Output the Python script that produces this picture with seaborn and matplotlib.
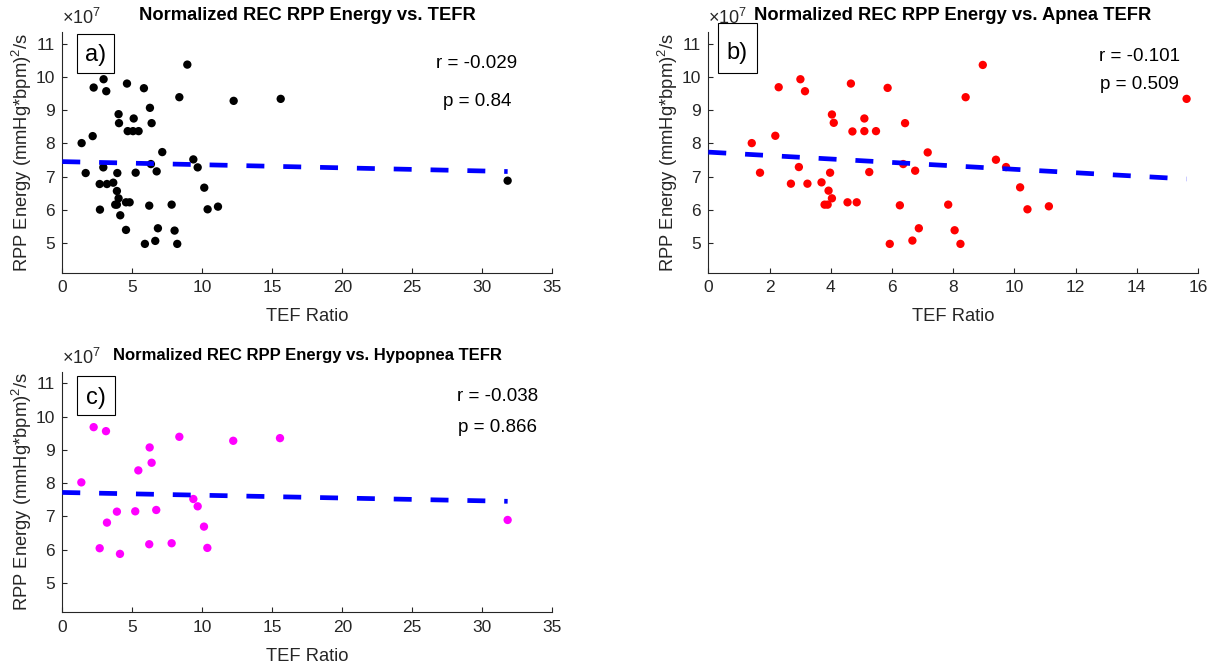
import numpy as np
import pandas as pd
import matplotlib
matplotlib.use("Agg")
import matplotlib.pyplot as plt
from matplotlib.patches import Rectangle
import seaborn as sns

# ---- data (RPP energy in units of 1e7 (mmHg*bpm)^2/s) ----
tefr_all = [8.93, 2.95, 2.24, 3.14, 4.62, 5.83, 8.36, 12.24, 6.26, 4.02,
            5.10, 4.05, 6.38, 4.67, 5.05, 5.45, 2.17, 1.38, 7.14, 9.36,
            2.93, 6.33, 9.67, 1.67, 3.93, 5.24, 6.74, 3.64, 3.19, 2.67,
            10.14, 3.90, 4.02, 3.78, 3.90, 4.55, 4.81, 6.21, 7.81, 11.12,
            10.38, 2.69, 4.14, 4.55, 6.83, 8.02, 5.90, 6.64, 8.21, 15.60,
            31.81]
energy_all = [10.37, 9.93, 9.68, 9.57, 9.80, 9.66, 9.39, 9.28, 9.07, 8.88,
              8.75, 8.61, 8.61, 8.37, 8.37, 8.37, 8.22, 8.01, 7.74, 7.52,
              7.28, 7.38, 7.28, 7.11, 7.11, 7.12, 7.16, 6.82, 6.78, 6.78,
              6.67, 6.57, 6.35, 6.16, 6.16, 6.23, 6.23, 6.13, 6.16, 6.10,
              6.02, 6.01, 5.84, 5.40, 5.45, 5.38, 4.98, 5.07, 4.98, 9.34,
              6.88]

tefr_apnea = [3.01, 2.30, 3.16, 4.66, 5.86, 4.04, 4.10, 5.10, 4.71, 5.10,
              5.48, 6.43, 2.19, 1.42, 7.17, 6.37, 6.76, 2.96, 1.69, 3.98,
              5.26, 2.70, 3.24, 3.70, 3.93, 4.04, 3.80, 3.90, 4.55, 4.85,
              6.26, 7.84, 5.93, 6.67, 6.88, 8.05, 8.24, 8.97, 8.41, 15.63,
              9.40, 9.73, 10.19, 10.43, 11.13]
energy_apnea = [9.93, 9.69, 9.57, 9.80, 9.67, 8.87, 8.62, 8.75, 8.36, 8.37,
                8.37, 8.61, 8.23, 8.01, 7.73, 7.38, 7.18, 7.29, 7.12, 7.12,
                7.14, 6.79, 6.79, 6.83, 6.58, 6.35, 6.16, 6.16, 6.23, 6.23,
                6.14, 6.16, 4.98, 5.08, 5.45, 5.39, 4.98, 10.36, 9.39, 9.34,
                7.51, 7.29, 6.68, 6.02, 6.11]

tefr_hypopnea = [2.24, 3.12, 8.36, 12.21, 15.55, 6.24, 6.38, 5.43, 1.36, 9.36,
                 9.67, 3.90, 5.21, 6.71, 3.19, 10.12, 2.67, 4.12, 6.21, 7.81,
                 10.36, 31.81]
energy_hypopnea = [9.68, 9.56, 9.39, 9.27, 9.35, 9.07, 8.61, 8.38, 8.02, 7.52,
                   7.30, 7.14, 7.15, 7.19, 6.81, 6.69, 6.04, 5.87, 6.16, 6.19,
                   6.05, 6.89]

titles = ["Normalized REC RPP Energy vs. TEFR",
          "Normalized REC RPP Energy vs. Apnea TEFR",
          "Normalized REC RPP Energy vs. Hypopnea TEFR"]
r_labels = ["r = -0.029", "r = -0.101", "r = -0.038"]
p_labels = ["p = 0.84", "p = 0.509", "p = 0.866"]
panel_tags = ["a)", "b)", "c)"]
y_ticks = [5, 6, 7, 8, 9, 10, 11]
x_ticks_wide = [0, 5, 10, 15, 20, 25, 30, 35]
x_ticks_apnea = [0, 2, 4, 6, 8, 10, 12, 14, 16]

# ---- style ----
sns.set_style("ticks")
plt.rcParams["font.family"] = ["Liberation Sans", "DejaVu Sans"]
plt.rcParams["mathtext.fontset"] = "custom"
plt.rcParams["mathtext.rm"] = "Liberation Sans"
plt.rcParams["mathtext.it"] = "Liberation Sans:italic"
plt.rcParams["mathtext.bf"] = "Liberation Sans:bold"

GRAY = "#262626"
W, H = 1214, 667
fig = plt.figure(figsize=(W / 100, H / 100), dpi=100)


def fig_rect(left, top, width, height):
    return [left / W, 1 - (top + height) / H, width / W, height / H]


ax_a = fig.add_axes(fig_rect(62.3, 32.0, 490.0, 240.5))
ax_b = fig.add_axes(fig_rect(708.3, 32.0, 489.6, 240.5))
ax_c = fig.add_axes(fig_rect(62.3, 371.6, 490.0, 240.5))


def draw_panel(ax, x, y, color, title, title_size, r_txt, p_txt, r_pos, p_pos,
               xlim, xticks):
    df = pd.DataFrame({"TEF Ratio": x, "Energy": y})
    sns.scatterplot(data=df, x="TEF Ratio", y="Energy", ax=ax, color=color,
                    s=36, edgecolor="none", linewidth=0, zorder=2)
    slope, intercept = np.polyfit(df["TEF Ratio"], df["Energy"], 1)
    fx = np.array([0.0, df["TEF Ratio"].max()])
    fit = pd.DataFrame({"x": fx, "y": intercept + slope * fx})
    sns.lineplot(data=fit, x="x", y="y", ax=ax, color="#0000ff", lw=3.4,
                 linestyle=(0, (3.8, 4.0)), zorder=3)
    for ln in ax.get_lines():
        ln.set_dash_capstyle("butt")

    ax.set_xlim(*xlim)
    ax.set_ylim(4.12, 11.35)
    ax.set_xticks(xticks)
    ax.set_yticks(y_ticks)
    ax.set_yticklabels([str(t) for t in y_ticks])
    ax.set_xticklabels([str(t) for t in xticks])
    sns.despine(ax=ax)
    for side in ("left", "bottom"):
        ax.spines[side].set_color(GRAY)
        ax.spines[side].set_linewidth(0.8)
    ax.tick_params(direction="in", length=3.6, width=0.8, colors=GRAY,
                   labelsize=12.5, pad=5.5)

    ax.set_xlabel("TEF Ratio", fontsize=13.2, color=GRAY)
    ax.set_ylabel("RPP Energy (mmHg*bpm)$^{2}$/s", fontsize=13.2, color=GRAY)
    ax.xaxis.set_label_coords(0.5, -0.185)
    ax.xaxis.label.set_va("center")
    ax.yaxis.set_label_coords(-0.082, 0.5)
    ax.yaxis.label.set_va("center")

    ax.set_title(title, fontsize=title_size, fontweight="bold", y=1.068,
                 pad=0, va="center", color="black")
    ax.text(0.0, 1.033, r"$\times10^{7}$", transform=ax.transAxes,
            ha="left", va="baseline", fontsize=13, color=GRAY)

    ax.text(r_pos[0], r_pos[1], r_txt, transform=ax.transAxes,
            ha="center", va="center", fontsize=13.5, color="black")
    ax.text(p_pos[0], p_pos[1], p_txt, transform=ax.transAxes,
            ha="center", va="center", fontsize=13.5, color="black")


draw_panel(ax_a, tefr_all, energy_all, "black", titles[0], 13.2, r_labels[0],
           p_labels[0], (0.846, 0.867), (0.846, 0.713), (0, 35), x_ticks_wide)
draw_panel(ax_b, tefr_apnea, energy_apnea, "#ff0000", titles[1], 13.2,
           r_labels[1], p_labels[1], (0.881, 0.897), (0.881, 0.780), (0, 16),
           x_ticks_apnea)
draw_panel(ax_c, tefr_hypopnea, energy_hypopnea, "#ff00ff", titles[2], 12.0,
           r_labels[2], p_labels[2], (0.889, 0.898), (0.889, 0.767), (0, 35),
           x_ticks_wide)


def tag_box(left, top, width, height, text, text_dy=2.0):
    rect = Rectangle((left / W, 1 - (top + height) / H), width / W, height / H,
                     transform=fig.transFigure, facecolor="white",
                     edgecolor="black", linewidth=0.8, zorder=5)
    fig.add_artist(rect)
    fig.text((left + width / 2) / W, 1 - (top + height / 2 + text_dy) / H,
             text, ha="center", va="center", fontsize=17, color="black",
             zorder=6)


tag_box(76.7, 34.3, 37.6, 38.4, panel_tags[0])
tag_box(717.7, 23.3, 39.0, 49.4, panel_tags[1], text_dy=5.0)
tag_box(77.3, 376.0, 38.0, 39.3, panel_tags[2])

fig.savefig("out.png", dpi=100, facecolor="white")
